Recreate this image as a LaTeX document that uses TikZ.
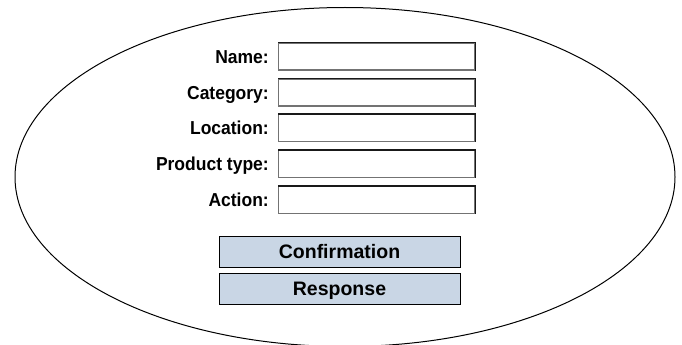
\documentclass[tikz,border=0pt]{standalone}
\usepackage{fontspec}
\setmainfont{Liberation Sans}
\tikzset{
  field/.style={draw=black!55, line width=1.1pt, minimum width=196pt, minimum height=27pt, inner sep=0pt, anchor=west},
  fieldlabel/.style={anchor=east, inner sep=0pt, text height=13.2pt, text depth=0pt, font=\fontsize{17.5}{20}\selectfont\bfseries},
  button/.style={draw=black, line width=1pt, fill=btnfill, minimum width=241pt, minimum height=31pt, inner sep=0pt, text height=14pt, text depth=0pt, font=\fontsize{19.5}{22}\selectfont\bfseries},
  frame/.style={draw=black, line width=1pt}
}
\definecolor{btnfill}{RGB}{201,214,229}
\begin{document}
\begin{tikzpicture}[x=1pt,y=-1pt]
\useasboundingbox (0,0) rectangle (682,345);
\begin{scope}
\clip (0,0) rectangle (682,345);
\draw[frame] (345,177) ellipse [x radius=330, y radius=169.5];
\end{scope}

% form fields with their labels
\foreach \key/\txt/\yc in {name/Name:/56.5, cat/Category:/92.5, loc/Location:/128, prod/Product type:/164, act/Action:/200}{
  \node[field] (\key) at (278,\yc) {};
  \draw[black!90, line width=1.1pt] (\key.north west) -- (\key.north east) -- (\key.south east);
  \node[fieldlabel] (\key-l) at (269,\yc) {\scalebox{1}[1.07]{\txt}};
}

% buttons
\node[button] (conf) at (339.5,251.5) {Confirmation};
\node[button] (resp) at (339.5,288.5) {Response};
\end{tikzpicture}
\end{document}
